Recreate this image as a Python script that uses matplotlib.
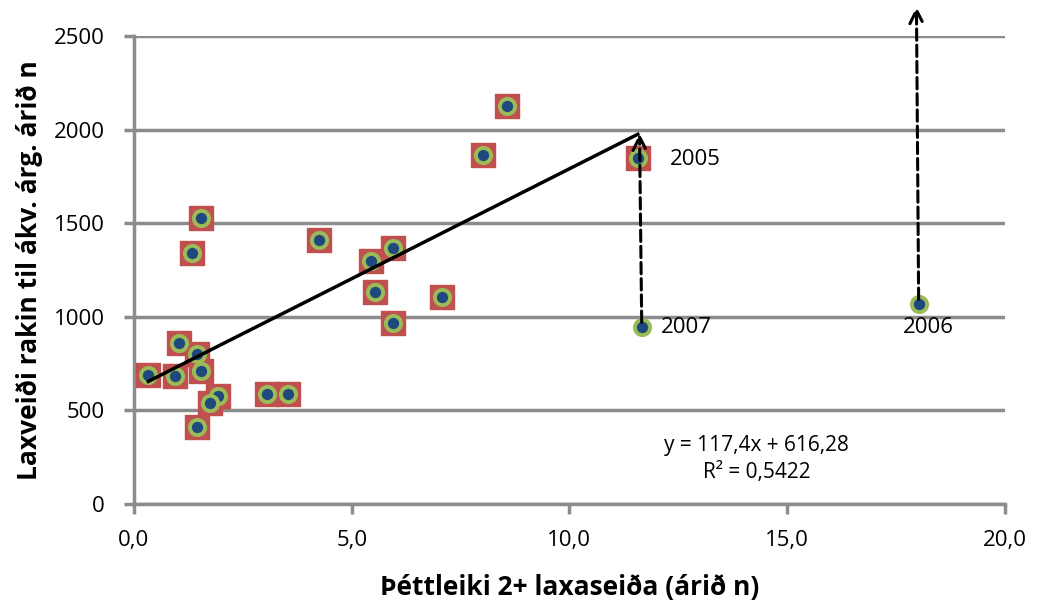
import numpy as np
import matplotlib
matplotlib.use('Agg')
import matplotlib.pyplot as plt

plt.rcParams['font.family'] = ['Open Sans', 'DejaVu Sans']

# density of 2+ parr (year n) and salmon catch traced to year class
dens = [0.33, 0.94, 1.04, 1.44, 1.53, 1.94, 1.75, 1.44, 3.05, 3.54, 1.54,
        1.34, 4.24, 5.44, 5.94, 5.54, 7.08, 5.94, 8.01, 8.56, 11.57]
catch = [689, 684, 858, 801, 712, 577, 538, 413, 586, 588, 1528,
         1341, 1410, 1300, 1366, 1131, 1107, 968, 1864, 2126, 1848]

# years outside the regression
extra_dens = [11.66, 18.02]
extra_catch = [945, 1068]
extra_lbl = ['2007', '2006']
arrow_top = [1978, 2655]

slope, icpt = 117.4, 616.28

fig = plt.figure(figsize=(10.37, 6.08), dpi=100)
ax = fig.add_axes([0.1292, 0.171, 0.8398, 0.770])

grid_c = '#8c8c8c'
ax.set_xlim(0, 20)
ax.set_ylim(0, 2500)
ax.set_yticks(np.arange(0, 2501, 500))
ax.set_xticks(np.arange(0, 20.1, 5))
ax.set_xticklabels([f'{v:.1f}'.replace('.', ',') for v in np.arange(0, 20.1, 5)])
ax.yaxis.grid(True, color=grid_c, lw=2.5)
ax.set_axisbelow(True)
for s in ['top', 'right']:
    ax.spines[s].set_visible(False)
ax.spines['left'].set_color(grid_c)
ax.spines['left'].set_linewidth(2.5)
ax.spines['bottom'].set_color(grid_c)
ax.spines['bottom'].set_linewidth(2.5)
ax.tick_params(axis='both', colors=grid_c, width=2.5, length=7, labelsize=16,
               labelcolor='black')
ax.tick_params(axis='y', pad=14)
ax.tick_params(axis='x', pad=12)

ax.scatter(dens, catch, marker='s', s=290, color='#c0504d', zorder=3)
ax.scatter(dens, catch, marker='o', s=120, facecolor='#1f497d',
           edgecolor='#9bbb59', linewidth=2.8, zorder=4)
ax.scatter(extra_dens, extra_catch, marker='o', s=120, facecolor='#1f497d',
           edgecolor='#9bbb59', linewidth=2.8, zorder=4)

xl = np.array([min(dens), max(dens)])
ax.plot(xl, slope * xl + icpt, color='black', lw=2.5, zorder=5)

for xd, yd, yt in zip(extra_dens, extra_catch, arrow_top):
    ax.annotate('', xy=(xd - 0.05, yt), xytext=(xd, yd + 25),
                arrowprops=dict(arrowstyle='->', color='black', lw=2.2,
                                linestyle='--', mutation_scale=24,
                                shrinkA=0, shrinkB=0),
                annotation_clip=False, zorder=6)

ax.text(12.3, 1838, '2005', fontsize=16, va='center', ha='left')
ax.text(12.1, 945, extra_lbl[0], fontsize=16, va='center', ha='left')
ax.text(18.25, 945, extra_lbl[1], fontsize=16, va='center', ha='center')

ax.text(14.3, 315, 'y = 117,4x + 616,28', fontsize=15, ha='center', va='center')
ax.text(14.3, 166, 'R² = 0,5422', fontsize=15, ha='center', va='center')

ax.set_xlabel('Þéttleiki 2+ laxaseiða (árið n)', fontsize=19,
              fontweight='bold', labelpad=16)
ax.set_ylabel('Laxveiði rakin til ákv. árg. árið n', fontsize=19,
              fontweight='bold', labelpad=8)

fig.savefig('out.png', dpi=100)
